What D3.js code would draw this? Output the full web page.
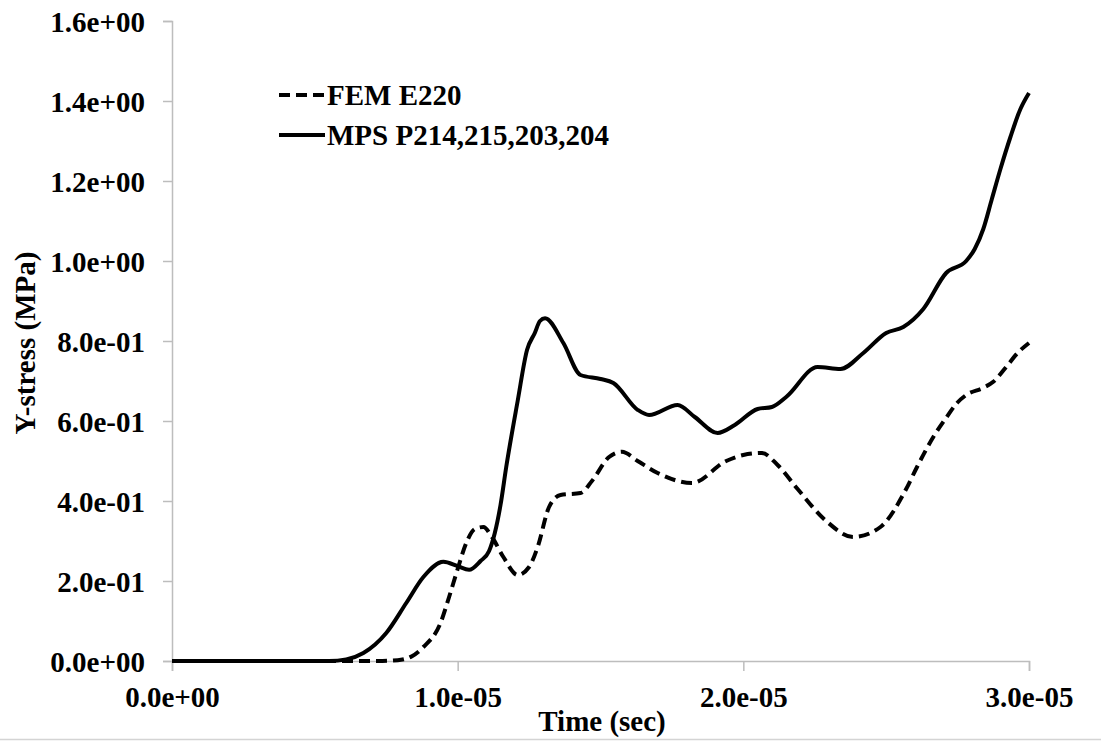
<!DOCTYPE html>
<html>
<head>
<meta charset="utf-8">
<script src="https://cdn.jsdelivr.net/npm/d3@7"></script>
<style>
  html, body { margin: 0; padding: 0; background: #fff; }
  svg { display: block; }
  text { font-family: "Liberation Serif", "Times New Roman", serif; font-weight: bold; fill: #000; }
</style>
</head>
<body>
<svg id="chart" width="1101" height="743"></svg>
<script>
// time in units of 1e-5 s
const femTime = [0, 0.2, 0.4, 0.6, 0.72, 0.79, 0.84, 0.88, 0.94, 0.97, 1.00, 1.03, 1.06, 1.09, 1.12, 1.16, 1.21, 1.25, 1.28, 1.32, 1.36, 1.43, 1.47, 1.53, 1.575, 1.63, 1.70, 1.82, 1.94, 2.00, 2.065, 2.12, 2.19, 2.29, 2.385, 2.48, 2.57, 2.608, 2.665, 2.712, 2.748, 2.78, 2.84, 2.875, 2.92, 2.96, 3.00];
const femStress = [0, 0, 0, 0, 0, 0.002, 0.012, 0.035, 0.095, 0.16, 0.23, 0.295, 0.33, 0.335, 0.31, 0.26, 0.215, 0.235, 0.285, 0.385, 0.415, 0.42, 0.45, 0.51, 0.523, 0.50, 0.47, 0.445, 0.50, 0.515, 0.52, 0.49, 0.43, 0.35, 0.31, 0.335, 0.43, 0.485, 0.56, 0.61, 0.645, 0.665, 0.683, 0.698, 0.735, 0.77, 0.795];

const mpsTime = [0, 0.2, 0.4, 0.55, 0.61, 0.67, 0.75, 0.82, 0.88, 0.95, 1.00, 1.04, 1.08, 1.11, 1.13, 1.15, 1.17, 1.21, 1.243, 1.27, 1.288, 1.306, 1.37, 1.43, 1.50, 1.545, 1.63, 1.67, 1.77, 1.83, 1.91, 1.97, 2.05, 2.10, 2.15, 2.26, 2.34, 2.42, 2.50, 2.56, 2.63, 2.71, 2.78, 2.81, 2.84, 2.87, 2.90, 2.935, 2.97, 3.00];
const mpsStress = [0, 0, 0, 0, 0.004, 0.02, 0.07, 0.145, 0.21, 0.248, 0.237, 0.228, 0.25, 0.275, 0.32, 0.39, 0.485, 0.65, 0.778, 0.82, 0.85, 0.857, 0.795, 0.715, 0.705, 0.695, 0.628, 0.615, 0.64, 0.61, 0.57, 0.59, 0.63, 0.635, 0.66, 0.735, 0.73, 0.77, 0.82, 0.835, 0.88, 0.97, 1.0, 1.03, 1.08, 1.155, 1.23, 1.31, 1.38, 1.42];

const xTickValues = [0, 1e-5, 2e-5, 3e-5];
const xTickLabels = ["0.0e+00", "1.0e-05", "2.0e-05", "3.0e-05"];
const yTickValues = [0, 0.2, 0.4, 0.6, 0.8, 1.0, 1.2, 1.4, 1.6];
const yTickLabels = ["0.0e+00", "2.0e-01", "4.0e-01", "6.0e-01", "8.0e-01", "1.0e+00", "1.2e+00", "1.4e+00", "1.6e+00"];

const seriesNames = ["FEM E220", "MPS P214,215,203,204"];

(function () {
const svg = d3.select("#chart");
const pLeft = 172, pRight = 1029, pTop = 21, pBottom = 661;
const x = d3.scaleLinear().domain([0, 3e-5]).range([pLeft, pRight]);
const y = d3.scaleLinear().domain([0, 1.6]).range([pBottom, pTop]);
const axisColor = "#bdbdbd";
const fs = 29;

// bottom border line of image
svg.append("line").attr("x1", 0).attr("x2", 1101).attr("y1", 739.5).attr("y2", 739.5)
  .attr("stroke", "#d4d4d4").attr("stroke-width", 1.5);

// Y axis
const yAxis = svg.append("g").attr("transform", `translate(${pLeft},0)`)
  .call(d3.axisLeft(y).tickValues(yTickValues).tickSize(9).tickFormat((d, i) => yTickLabels[i]));
yAxis.select(".domain").attr("stroke", axisColor).attr("stroke-width", 1.5);
yAxis.selectAll(".tick line").attr("stroke", axisColor).attr("stroke-width", 1.5);
yAxis.selectAll(".tick text").attr("font-size", fs).attr("x", -27).attr("dy", "0.36em")
  .style("font-family", '"Liberation Serif", serif').style("font-weight", "bold").attr("fill", "#000");

// X axis
const xAxis = svg.append("g").attr("transform", `translate(0,${pBottom})`)
  .call(d3.axisBottom(x).tickValues(xTickValues).tickSize(10).tickFormat((d, i) => xTickLabels[i]));
xAxis.select(".domain").attr("stroke", axisColor).attr("stroke-width", 1.5);
xAxis.selectAll(".tick line").attr("stroke", axisColor).attr("stroke-width", 1.5);
xAxis.selectAll(".tick text").attr("font-size", fs).attr("y", 46).attr("dy", 0)
  .style("font-family", '"Liberation Serif", serif').style("font-weight", "bold").attr("fill", "#000");

// Axis titles
svg.append("text").attr("x", 602).attr("y", 731).attr("text-anchor", "middle")
  .attr("font-size", fs).text("Time (sec)");
svg.append("text").attr("transform", "translate(35,343) rotate(-90)").attr("text-anchor", "middle")
  .attr("font-size", fs).text("Y-stress (MPa)");

// Lines
const line = d3.line().x(d => x(d[0] * 1e-5)).y(d => y(d[1])).curve(d3.curveMonotoneX);
const femData = femTime.map((t, i) => [t, femStress[i]]);
const mpsData = mpsTime.map((t, i) => [t, mpsStress[i]]);

svg.append("path").datum(femData).attr("d", line).attr("fill", "none")
  .attr("stroke", "#000").attr("stroke-width", 4).attr("stroke-dasharray", "11,6");
svg.append("path").datum(mpsData).attr("d", line).attr("fill", "none")
  .attr("stroke", "#000").attr("stroke-width", 4);

// Legend
const legend = svg.append("g");
const legRows = [{name: seriesNames[0], dash: "11,6", y: 95}, {name: seriesNames[1], dash: null, y: 135}];
legRows.forEach(r => {
  const l = legend.append("line").attr("x1", 279).attr("x2", 325).attr("y1", r.y).attr("y2", r.y)
    .attr("stroke", "#000").attr("stroke-width", 4);
  if (r.dash) l.attr("stroke-dasharray", r.dash);
  legend.append("text").attr("x", 327).attr("y", r.y + 10).attr("font-size", fs).text(r.name);
});
})();
</script>
</body>
</html>
